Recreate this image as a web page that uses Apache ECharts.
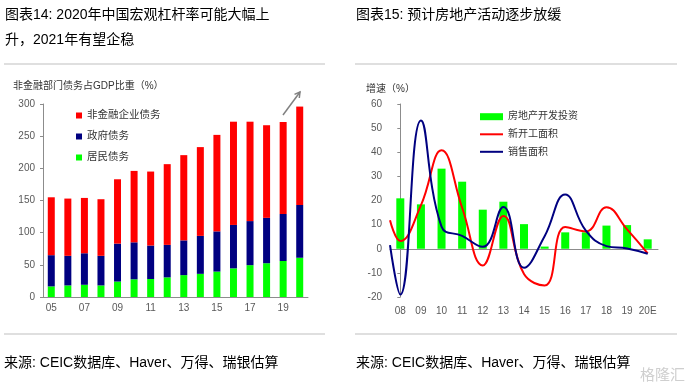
<!DOCTYPE html>
<html><head><meta charset="utf-8">
<script src="https://cdn.jsdelivr.net/npm/echarts/dist/echarts.min.js"></script>
<style>html,body{margin:0;padding:0;background:#fff}#c{width:692px;height:389px}</style>
</head><body><div id="c"></div>
<script>
// ---- Left chart data (非金融部门债务占GDP比重, %) ----
const leftYears = ['05','06','07','08','09','10','11','12','13','14','15','16','17','18','19','20'];
const householdDebt = [16.5, 18, 19, 18, 24, 27.5, 28, 30.5, 34, 36, 39.5, 44.5, 49.5, 52.5, 56, 61];
const govDebt       = [48.5, 46, 49, 46, 59, 57.5, 52, 50.5, 54, 59, 62.5, 67.5, 68.5, 70.5, 73, 82];
const corpDebt      = [90, 89, 86, 88, 100, 111, 115, 125.5, 132.5, 138, 150, 160.5, 154.5, 144, 143, 153];
const leftTicks = [0, 50, 100, 150, 200, 250, 300];

// ---- Right chart data (增速, %) ----
const rightYears = ['08','09','10','11','12','13','14','15','16','17','18','19','20E'];
const investGrowth = [20.9, 18.4, 33.2, 27.8, 16.2, 19.5, 10.2, 0.9, 6.8, 6.8, 9.6, 9.8, 3.9];
const startsGrowth = [3.2, 18, 40.8, 17, -6.9, 13.6, -10.5, -15.2, 9, 7.2, 17.2, 8, -1.9];
const salesGrowth  = [-19, 53.2, 9.2, 5.3, 0.8, 17.3, -7.9, 5.2, 22.5, 7.5, 1.1, 0.1, -2.1];
const startsFirst = 11.8;   // value where the curve enters at the left edge
const salesFirst = 1.5;
const edgePos = -0.5;       // left edge of the category axis, in category units
const rightTicks = [-20, -10, 0, 10, 20, 30, 40, 50, 60];

const FONT = "'Liberation Sans','Noto Sans CJK SC',sans-serif";
const AXIS_COLOR = '#8c8c8c';
const LABEL_COLOR = '#595959';

function linePairs(first, vals) {
  return [[edgePos, first]].concat(vals.map((v, i) => [i, v]));
}

const chart = echarts.init(document.getElementById('c'), null, {renderer: 'canvas'});

const txt = (x, y, s, size, color) => ({
  type: 'text', x: x, y: y, silent: true,
  style: {text: s, fill: color || '#000', font: size + 'px ' + FONT, textVerticalAlign: 'middle', textAlign: 'left'}
});

chart.setOption({
  animation: false,
  backgroundColor: '#fff',
  textStyle: {fontFamily: FONT},
  grid: [
    {left: 43, top: 104, width: 265, height: 193},
    {left: 390, top: 104, width: 268, height: 193}
  ],
  legend: [
    {
      orient: 'vertical', left: 71, top: 104, itemWidth: 6, itemHeight: 6, itemGap: 8,
      data: ['非金融企业债务', '政府债务', '居民债务'],
      textStyle: {fontSize: 10.5, color: '#333', lineHeight: 13, fontFamily: FONT},
      icon: 'rect'
    },
    {
      orient: 'vertical', left: 475, top: 105.7, itemWidth: 23, itemHeight: 7,
      data: ['房地产开发投资'], icon: 'rect',
      textStyle: {fontSize: 10, color: '#333', lineHeight: 12, fontFamily: FONT}
    },
    {
      orient: 'vertical', left: 475, top: 123.3, itemWidth: 23, itemHeight: 2, itemGap: 5.5,
      data: ['新开工面积', '销售面积'], icon: 'rect',
      textStyle: {fontSize: 10, color: '#333', lineHeight: 12, fontFamily: FONT}
    }
  ],
  xAxis: [
    {
      type: 'category', gridIndex: 0, data: leftYears, boundaryGap: true,
      axisLine: {lineStyle: {color: AXIS_COLOR}},
      axisTick: {interval: 1, length: 4, lineStyle: {color: AXIS_COLOR}},
      axisLabel: {interval: 1, fontSize: 10, color: LABEL_COLOR, margin: 6}
    },
    {
      type: 'category', gridIndex: 1, data: rightYears, boundaryGap: true, position: 'bottom',
      axisLine: {show: false, onZero: false}, axisTick: {show: false},
      axisLabel: {interval: 0, fontSize: 10, color: LABEL_COLOR, margin: 9}
    },
    {
      type: 'category', gridIndex: 1, data: rightYears, boundaryGap: true,
      axisLine: {onZero: true, lineStyle: {color: AXIS_COLOR}},
      axisTick: {interval: 0, length: 3, lineStyle: {color: AXIS_COLOR}},
      axisLabel: {show: false}
    },
    {
      type: 'value', gridIndex: 1, min: edgePos, max: rightYears.length - 0.5, show: false
    }
  ],
  yAxis: [
    {
      type: 'value', gridIndex: 0, min: leftTicks[0], max: leftTicks[leftTicks.length - 1],
      interval: leftTicks[1] - leftTicks[0],
      axisLine: {show: true, lineStyle: {color: AXIS_COLOR}},
      axisTick: {show: true, length: 3, lineStyle: {color: AXIS_COLOR}},
      axisLabel: {fontSize: 10, color: LABEL_COLOR, margin: 8},
      splitLine: {show: false}
    },
    {
      type: 'value', gridIndex: 1, min: rightTicks[0], max: rightTicks[rightTicks.length - 1],
      interval: rightTicks[1] - rightTicks[0],
      axisLine: {show: true, lineStyle: {color: AXIS_COLOR}},
      axisTick: {show: true, length: 3, lineStyle: {color: AXIS_COLOR}},
      axisLabel: {fontSize: 10, color: LABEL_COLOR, margin: 8},
      splitLine: {show: false}
    }
  ],
  series: [
    {name: '居民债务', type: 'bar', stack: 'debt', xAxisIndex: 0, yAxisIndex: 0, barWidth: 7,
     itemStyle: {color: '#00ff00'}, data: householdDebt},
    {name: '政府债务', type: 'bar', stack: 'debt', xAxisIndex: 0, yAxisIndex: 0, barWidth: 7,
     itemStyle: {color: '#000080'}, data: govDebt},
    {name: '非金融企业债务', type: 'bar', stack: 'debt', xAxisIndex: 0, yAxisIndex: 0, barWidth: 7,
     itemStyle: {color: '#ff0000'}, data: corpDebt},
    {name: '房地产开发投资', type: 'bar', xAxisIndex: 2, yAxisIndex: 1, barWidth: 8,
     itemStyle: {color: '#00ff00'}, data: investGrowth},
    {name: '新开工面积', type: 'line', xAxisIndex: 3, yAxisIndex: 1, smooth: 0.45,
     symbol: 'none', lineStyle: {color: '#ff0000', width: 2}, itemStyle: {color: '#ff0000'},
     data: linePairs(startsFirst, startsGrowth), z: 3},
    {name: '销售面积', type: 'line', xAxisIndex: 3, yAxisIndex: 1, smooth: 0.45,
     symbol: 'none', lineStyle: {color: '#000080', width: 2}, itemStyle: {color: '#000080'},
     data: linePairs(salesFirst, salesGrowth), z: 4}
  ],
  graphic: [
    txt(5, 15, '图表14: 2020年中国宏观杠杆率可能大幅上', 14),
    txt(5, 40, '升，2021年有望企稳', 14),
    txt(356, 15, '图表15: 预计房地产活动逐步放缓', 14),
    {type: 'line', silent: true, shape: {x1: 4, y1: 64, x2: 325, y2: 64}, style: {stroke: '#d4d4d4', lineWidth: 1.5}},
    {type: 'line', silent: true, shape: {x1: 355, y1: 64, x2: 677, y2: 64}, style: {stroke: '#d4d4d4', lineWidth: 1.5}},
    {type: 'line', silent: true, shape: {x1: 4, y1: 334, x2: 325, y2: 334}, style: {stroke: '#d4d4d4', lineWidth: 1.5}},
    {type: 'line', silent: true, shape: {x1: 355, y1: 334, x2: 677, y2: 334}, style: {stroke: '#d4d4d4', lineWidth: 1.5}},
    txt(13, 86, '非金融部门债务占GDP比重（%）', 10, '#333'),
    txt(366, 89, '增速（%）', 10, '#333'),
    txt(4, 363, '来源: CEIC数据库、Haver、万得、瑞银估算', 14),
    txt(356, 363, '来源: CEIC数据库、Haver、万得、瑞银估算', 14),
    {type: 'line', silent: true, shape: {x1: 283, y1: 115, x2: 300, y2: 92}, style: {stroke: '#808080', lineWidth: 1.5}},
    {type: 'polyline', silent: true, shape: {points: [[294.5, 94.4], [300, 92], [299.3, 98]]}, style: {stroke: '#808080', lineWidth: 1.5, fill: null}},
    txt(640, 376, '格隆汇', 15, '#cfcfcf')
  ]
});
</script>
</body></html>
